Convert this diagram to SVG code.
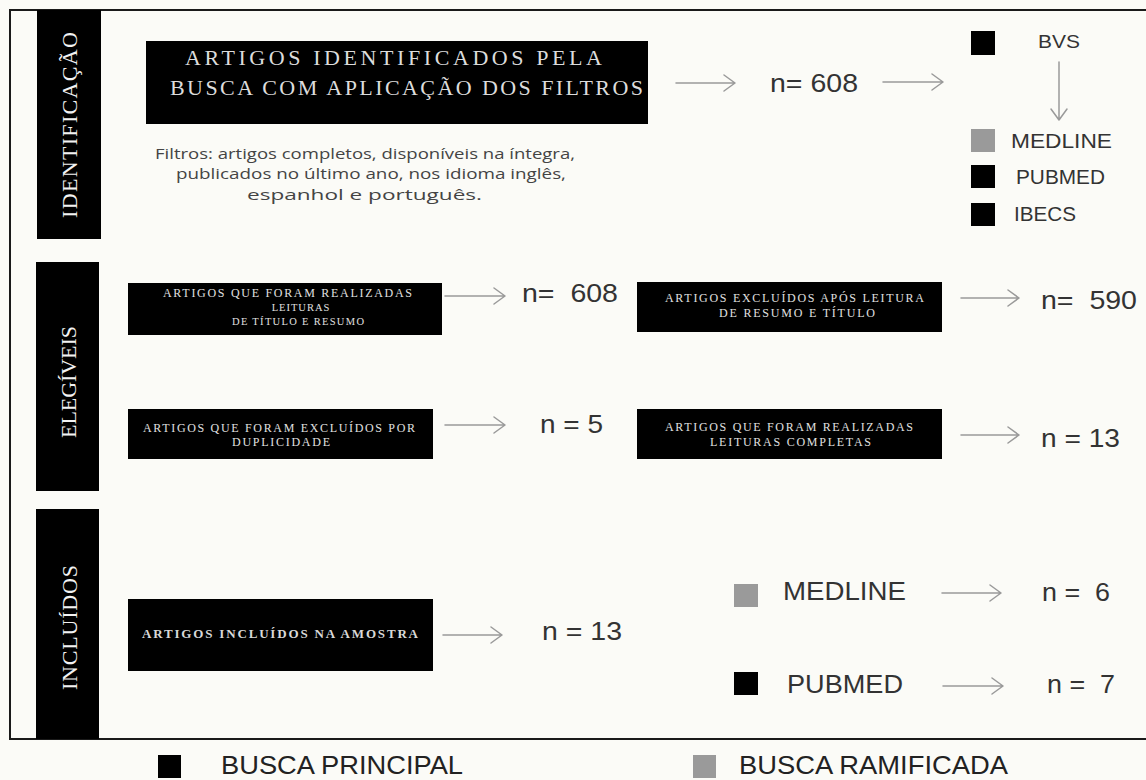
<svg xmlns="http://www.w3.org/2000/svg" width="1146" height="780" viewBox="0 0 1146 780">
<style>
.bg{fill:#fbfbf7}
.frame{fill:none;stroke:#1a1a1a;stroke-width:2}
.blk{fill:#000}
.gry{fill:#9a9a9a}
.side{font-family:"Liberation Serif","DejaVu Serif",serif;font-size:22px;fill:#f2f2f2}
.head{font-family:"Liberation Serif","DejaVu Serif",serif;font-size:22px;fill:#dcdcdc}
.bt{font-family:"Liberation Serif","DejaVu Serif",serif;font-size:12px;fill:#e0e0e0}
.bts{font-family:"Liberation Serif","DejaVu Serif",serif;font-size:10.5px;fill:#e0e0e0}
.bt2{font-family:"Liberation Serif","DejaVu Serif",serif;font-size:13px;font-weight:bold;fill:#d8d8d8}
.filt{font-family:"Open Sans","Liberation Sans",sans-serif;font-size:14.5px;fill:#444}
.num{font-family:"Liberation Sans",Arial,sans-serif;font-size:26px;fill:#333;white-space:pre}
.db{font-family:"Liberation Sans",Arial,sans-serif;fill:#333}
.leg{font-family:"Liberation Sans",Arial,sans-serif;font-size:25px;fill:#222}
.arr{fill:none;stroke:#9a9a9a;stroke-width:1.5;stroke-linecap:round;stroke-linejoin:round}
</style>
<rect class="bg" x="0" y="0" width="1146" height="780"/>
<rect class="frame" x="10" y="10" width="1150" height="729"/>

<g id="sec-identificacao">
<rect class="blk" x="37" y="10" width="64" height="229"/>
<text class="side" x="77" y="218" transform="rotate(-90 77 218)" textLength="186" lengthAdjust="spacing">IDENTIFICAÇÃO</text>
</g>
<g id="sec-elegiveis">
<rect class="blk" x="36" y="262" width="63" height="229"/>
<text class="side" x="76" y="438" transform="rotate(-90 76 438)" textLength="112" lengthAdjust="spacing">ELEGÍVEIS</text>
</g>
<g id="sec-incluidos">
<rect class="blk" x="36" y="509" width="63" height="230"/>
<text class="side" x="77" y="690" transform="rotate(-90 77 690)" textLength="125" lengthAdjust="spacing">INCLUÍDOS</text>
</g>

<g id="node-busca">
<rect class="blk" x="146" y="41" width="502" height="83"/>
<text class="head" x="185" y="65" textLength="417" lengthAdjust="spacing">ARTIGOS IDENTIFICADOS PELA</text>
<text class="head" x="170" y="95" textLength="473" lengthAdjust="spacing">BUSCA COM APLICAÇÃO DOS FILTROS</text>
</g>
<g id="note-filtros">
<text class="filt" x="155" y="159" textLength="420" lengthAdjust="spacingAndGlyphs">Filtros: artigos completos, disponíveis na íntegra,</text>
<text class="filt" x="176" y="179" textLength="390" lengthAdjust="spacingAndGlyphs">publicados no último ano, nos idioma inglês,</text>
<text class="filt" x="247" y="200" textLength="235" lengthAdjust="spacingAndGlyphs">espanhol e português.</text>
</g>
<g id="n-608-top"><text class="num" x="770" y="92" textLength="88" lengthAdjust="spacingAndGlyphs">n= 608</text></g>

<g id="db-bvs">
<rect class="blk" x="971" y="31" width="24" height="24"/>
<text class="db" x="1038" y="48" font-size="19" textLength="42" lengthAdjust="spacingAndGlyphs">BVS</text>
</g>
<g id="db-medline">
<rect class="gry" x="971" y="129" width="24" height="23"/>
<text class="db" x="1011" y="148" font-size="21" textLength="101" lengthAdjust="spacingAndGlyphs">MEDLINE</text>
</g>
<g id="db-pubmed">
<rect class="blk" x="971" y="165" width="24" height="23"/>
<text class="db" x="1016" y="184" font-size="21" textLength="89" lengthAdjust="spacingAndGlyphs">PUBMED</text>
</g>
<g id="db-ibecs">
<rect class="blk" x="971" y="203" width="24" height="23"/>
<text class="db" x="1014" y="221" font-size="21" textLength="62" lengthAdjust="spacingAndGlyphs">IBECS</text>
</g>

<g id="node-leituras-titulo">
<rect class="blk" x="128" y="283" width="314" height="52"/>
<text class="bt" x="163" y="297" textLength="249" lengthAdjust="spacing">ARTIGOS QUE FORAM REALIZADAS</text>
<text class="bts" x="301" y="311" text-anchor="middle" letter-spacing="1">LEITURAS</text>
<text class="bts" x="232" y="325" textLength="132" lengthAdjust="spacing">DE TÍTULO E RESUMO</text>
</g>
<g id="n-608-eleg"><text class="num" x="522" y="302" textLength="96" lengthAdjust="spacingAndGlyphs">n=  608</text></g>

<g id="node-excluidos-leitura">
<rect class="blk" x="637" y="282" width="305" height="50"/>
<text class="bt" x="665" y="302" textLength="259" lengthAdjust="spacing">ARTIGOS EXCLUÍDOS APÓS LEITURA</text>
<text class="bt" x="719" y="317" textLength="156" lengthAdjust="spacing">DE RESUMO E TÍTULO</text>
</g>
<g id="n-590"><text class="num" x="1041" y="309" textLength="96" lengthAdjust="spacingAndGlyphs">n=  590</text></g>

<g id="node-duplicidade">
<rect class="blk" x="128" y="409" width="305" height="50"/>
<text class="bt" x="143" y="432" textLength="272" lengthAdjust="spacing">ARTIGOS QUE FORAM EXCLUÍDOS POR</text>
<text class="bt" x="232" y="446" textLength="98" lengthAdjust="spacing">DUPLICIDADE</text>
</g>
<g id="n-5"><text class="num" x="540" y="433" textLength="63" lengthAdjust="spacingAndGlyphs">n = 5</text></g>

<g id="node-leituras-completas">
<rect class="blk" x="637" y="409" width="305" height="50"/>
<text class="bt" x="665" y="431" textLength="248" lengthAdjust="spacing">ARTIGOS QUE FORAM REALIZADAS</text>
<text class="bt" x="710" y="446" textLength="161" lengthAdjust="spacing">LEITURAS COMPLETAS</text>
</g>
<g id="n-13-eleg"><text class="num" x="1041" y="447" textLength="79" lengthAdjust="spacingAndGlyphs">n = 13</text></g>

<g id="node-amostra">
<rect class="blk" x="128" y="599" width="305" height="72"/>
<text class="bt2" x="142" y="638" textLength="276" lengthAdjust="spacing">ARTIGOS INCLUÍDOS NA AMOSTRA</text>
</g>
<g id="n-13-incl"><text class="num" x="542" y="640" textLength="80" lengthAdjust="spacingAndGlyphs">n = 13</text></g>

<g id="incl-medline">
<rect class="gry" x="734" y="584" width="24" height="23"/>
<text class="db" x="783" y="600" font-size="25" textLength="123" lengthAdjust="spacingAndGlyphs">MEDLINE</text>
</g>
<g id="n-6"><text class="num" x="1042" y="601" textLength="68" lengthAdjust="spacingAndGlyphs">n =  6</text></g>
<g id="incl-pubmed">
<rect class="blk" x="734" y="672" width="24" height="23"/>
<text class="db" x="787" y="693" font-size="25" textLength="116" lengthAdjust="spacingAndGlyphs">PUBMED</text>
</g>
<g id="n-7"><text class="num" x="1047" y="693" textLength="68" lengthAdjust="spacingAndGlyphs">n =  7</text></g>

<g id="connectors">
<path class="arr" d="M676 83H735M724 75L735 83L724 91"/>
<path class="arr" d="M883 82H943M932 74L943 82L932 90"/>
<path class="arr" d="M1059 62V120M1051 109L1059 120L1067 109"/>
<path class="arr" d="M445 296H505M494 288L505 296L494 304"/>
<path class="arr" d="M961 298H1019M1008 290L1019 298L1008 306"/>
<path class="arr" d="M445 425H505M494 417L505 425L494 433"/>
<path class="arr" d="M961 435H1019M1008 427L1019 435L1008 443"/>
<path class="arr" d="M443 635H502M491 627L502 635L491 643"/>
<path class="arr" d="M942 593H1001M990 585L1001 593L990 601"/>
<path class="arr" d="M943 686H1003M992 678L1003 686L992 694"/>
</g>

<g id="legend">
<rect class="blk" x="158" y="755" width="23" height="23"/>
<text class="leg" x="221" y="774" textLength="242" lengthAdjust="spacingAndGlyphs">BUSCA PRINCIPAL</text>
<rect class="gry" x="693" y="755" width="23" height="23"/>
<text class="leg" x="739" y="774" textLength="269" lengthAdjust="spacingAndGlyphs">BUSCA RAMIFICADA</text>
</g>
</svg>
